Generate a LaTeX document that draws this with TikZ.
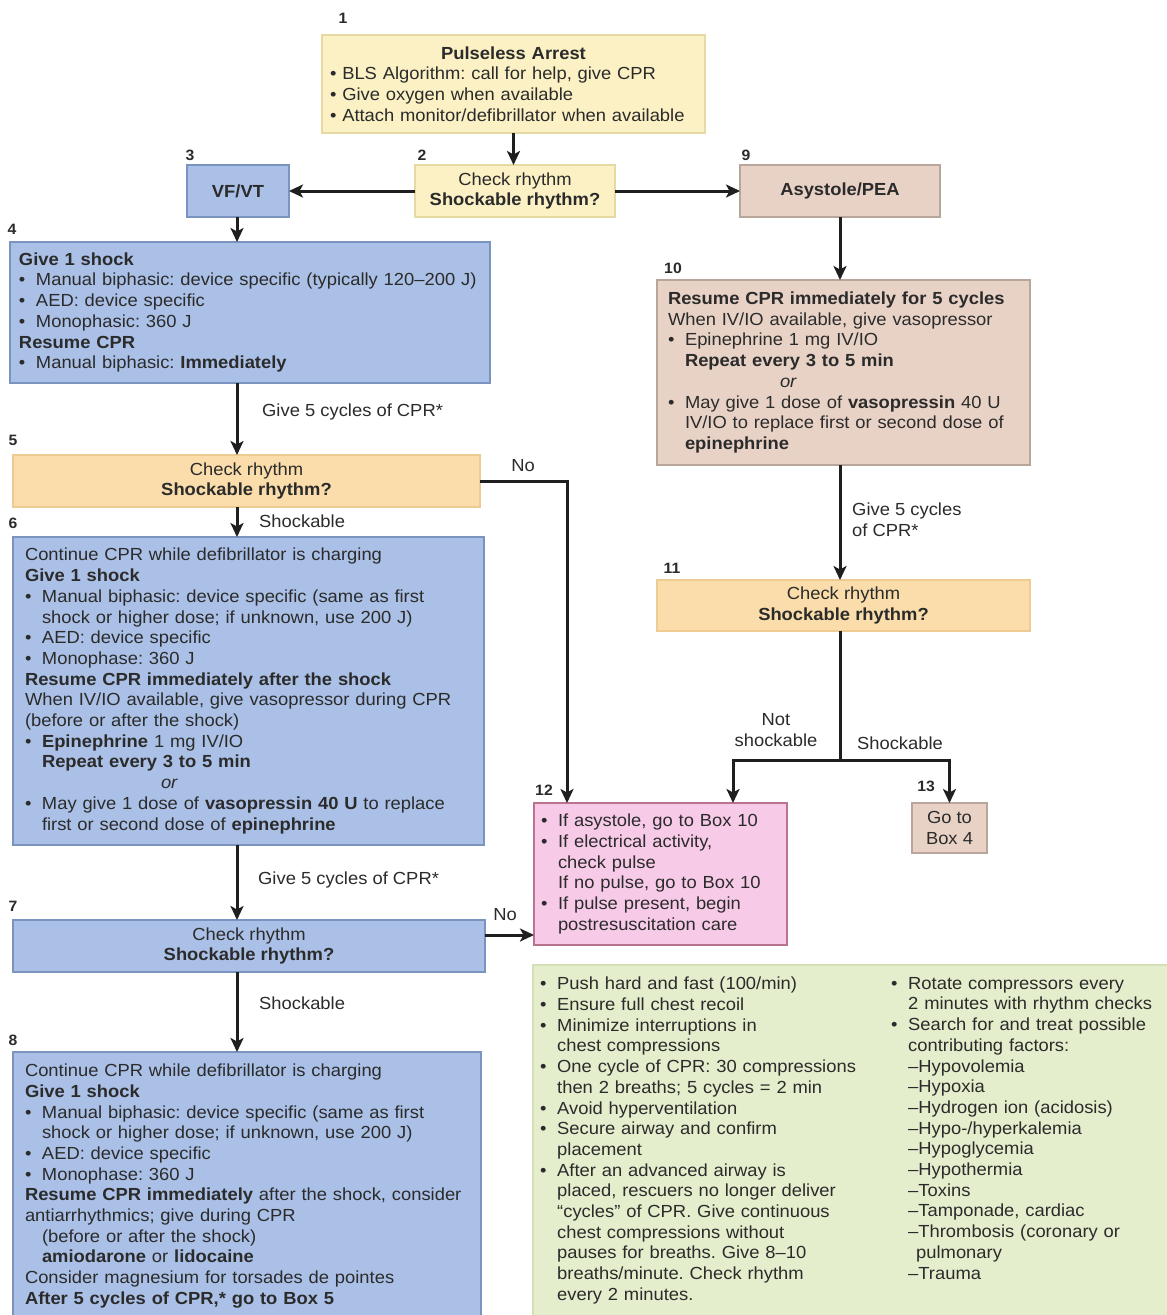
\documentclass[tikz,border=0pt]{standalone}
\usepackage{fontspec}
\setmainfont{Liberation Sans}[FakeStretch=1.05]
\usetikzlibrary{arrows.meta}

\definecolor{txt}{HTML}{2B2B2B}
\definecolor{yelF}{HTML}{FBF1C4}
\definecolor{yelD}{HTML}{E6D9A2}
\definecolor{bluF}{HTML}{ABC0E6}
\definecolor{bluD}{HTML}{7B93BF}
\definecolor{orgF}{HTML}{FADDAA}
\definecolor{orgD}{HTML}{EDCB92}
\definecolor{tanF}{HTML}{E8D2C6}
\definecolor{tanD}{HTML}{B9A69B}
\definecolor{pnkF}{HTML}{F7CBE8}
\definecolor{pnkD}{HTML}{B9738F}
\definecolor{grnF}{HTML}{E4EDCC}
\definecolor{grnD}{HTML}{D3DFB5}

\newcommand\bodyfont{\fontsize{17.5}{20.7}\selectfont\frenchspacing}
\newcommand\bul{\makebox[17pt][l]{\textbullet}}
\newcommand\hng{\hspace*{17pt}}

\tikzset{
  panel/.style={draw, line width=1.1pt, anchor=north west, inner ysep=0pt,
    outer sep=0pt, font=\bodyfont, text=txt, align=left},
  cpanel/.style={panel, align=center, inner sep=0pt},
  yel/.style={fill=yelF, draw=yelD},
  blu/.style={fill=bluF, draw=bluD},
  org/.style={fill=orgF, draw=orgD},
  tan/.style={fill=tanF, draw=tanD},
  pnk/.style={fill=pnkF, draw=pnkD},
  grn/.style={fill=grnF, draw=grnD},
  conn/.style={line width=3pt, draw=black!88},
  arr/.style={conn, -{Stealth[length=14pt,width=13pt,inset=3.5pt]}},
  num/.style={font=\bfseries\fontsize{15}{15}\selectfont, text=txt},
  lbl/.style={font=\bodyfont, text=txt, inner sep=0pt},
}

\begin{document}
\begin{tikzpicture}[x=1pt,y=-1pt]
\useasboundingbox[fill=white] (0,0) rectangle (1167,1315);

% ---------- boxes ----------
\node[panel,yel,minimum width=383pt,minimum height=98pt,inner xsep=8pt,text width=367pt] (b1) at (322,35)
  {\makebox[367pt]{\textbf{Pulseless Arrest}}\\
   \textbullet\ BLS Algorithm: call for help, give CPR\\
   \textbullet\ Give oxygen when available\\
   \textbullet\ Attach monitor/defibrillator when available};

\node[cpanel,yel,minimum width=200pt,minimum height=52pt] (b2) at (415,165)
  {Check rhythm\\\textbf{Shockable rhythm?}};

\node[cpanel,blu,minimum width=102pt,minimum height=52pt] (b3) at (187,165) {\textbf{VF/VT}};

\node[cpanel,tan,minimum width=200pt,minimum height=52pt] (b9) at (740,165) {\textbf{Asystole/PEA}};

\node[panel,blu,minimum width=480pt,minimum height=141pt,inner xsep=9pt,text width=462pt] (b4) at (10,242)
  {\textbf{Give 1 shock}\\
   \bul Manual biphasic: device specific (typically 120–200 J)\\
   \bul AED: device specific\\
   \bul Monophasic: 360 J\\
   \textbf{Resume CPR}\\
   \bul Manual biphasic: \textbf{Immediately}};

\node[cpanel,org,minimum width=467pt,minimum height=52pt] (b5) at (13,455)
  {Check rhythm\\\textbf{Shockable rhythm?}};

\node[panel,blu,minimum width=471pt,minimum height=308pt,inner xsep=12pt,text width=447pt] (b6) at (13,537)
  {Continue CPR while defibrillator is charging\\
   \textbf{Give 1 shock}\\
   \bul Manual biphasic: device specific (same as first\\
   \hng shock or higher dose; if unknown, use 200 J)\\
   \bul AED: device specific\\
   \bul Monophase: 360 J\\
   \textbf{Resume CPR immediately after the shock}\\
   When IV/IO available, give vasopressor during CPR\\
   (before or after the shock)\\
   \bul\textbf{Epinephrine} 1 mg IV/IO\\
   \hng\textbf{Repeat every 3 to 5 min}\\
   \hspace*{136pt}\textit{or}\\
   \bul May give 1 dose of \textbf{vasopressin 40 U} to replace\\
   \hng first or second dose of \textbf{epinephrine}};

\node[cpanel,blu,minimum width=472pt,minimum height=52pt] (b7) at (13,920)
  {Check rhythm\\\textbf{Shockable rhythm?}};

\node[panel,blu,minimum width=468pt,minimum height=268pt,inner xsep=12pt,text width=444pt] (b8) at (13,1052)
  {Continue CPR while defibrillator is charging\\
   \textbf{Give 1 shock}\\
   \bul Manual biphasic: device specific (same as first\\
   \hng shock or higher dose; if unknown, use 200 J)\\
   \bul AED: device specific\\
   \bul Monophase: 360 J\\
   \textbf{Resume CPR immediately} after the shock, consider\\
   antiarrhythmics; give during CPR\\
   \hng(before or after the shock)\\
   \hng\textbf{amiodarone} or \textbf{lidocaine}\\
   Consider magnesium for torsades de pointes\\
   \textbf{After 5 cycles of CPR,* go to Box 5}};

\node[panel,tan,minimum width=373pt,minimum height=185pt,inner xsep=11pt,text width=351pt] (b10) at (657,280)
  {\textbf{Resume CPR immediately for 5 cycles}\\
   When IV/IO available, give vasopressor\\
   \bul Epinephrine 1 mg IV/IO\\
   \hng\textbf{Repeat every 3 to 5 min}\\
   \hspace*{112pt}\textit{or}\\
   \bul May give 1 dose of \textbf{vasopressin} 40 U\\
   \hng IV/IO to replace first or second dose of\\
   \hng\textbf{epinephrine}};

\node[cpanel,org,minimum width=373pt,minimum height=51pt] (b11) at (657,580)
  {Check rhythm\\\textbf{Shockable rhythm?}};

\node[panel,pnk,minimum width=253pt,minimum height=142pt,inner xsep=7pt,text width=239pt] (b12) at (534,803)
  {\bul If asystole, go to Box 10\\
   \bul If electrical activity,\\
   \hng check pulse\\
   \hng If no pulse, go to Box 10\\
   \bul If pulse present, begin\\
   \hng postresuscitation care};

\node[cpanel,tan,minimum width=75pt,minimum height=50pt] (b13) at (912,803) {Go to\\Box 4};

% ---------- reminders panel ----------
\node[panel,grn,minimum width=642pt,minimum height=357pt] (gbox) at (533,965) {};
\node[lbl,anchor=north west,align=left,text width=345pt] (gleft) at (540,977)
  {\bul Push hard and fast (100/min)\\
   \bul Ensure full chest recoil\\
   \bul Minimize interruptions in\\
   \hng chest compressions\\
   \bul One cycle of CPR: 30 compressions\\
   \hng then 2 breaths; 5 cycles = 2 min\\
   \bul Avoid hyperventilation\\
   \bul Secure airway and confirm\\
   \hng placement\\
   \bul After an advanced airway is\\
   \hng placed, rescuers no longer deliver\\
   \hng “cycles” of CPR. Give continuous\\
   \hng chest compressions without\\
   \hng pauses for breaths. Give 8–10\\
   \hng breaths/minute. Check rhythm\\
   \hng every 2 minutes.};
\node[lbl,anchor=north west,align=left,text width=270pt] (gright) at (891,977)
  {\bul Rotate compressors every\\
   \hng 2 minutes with rhythm checks\\
   \bul Search for and treat possible\\
   \hng contributing factors:\\
   \hng –Hypovolemia\\
   \hng –Hypoxia\\
   \hng –Hydrogen ion (acidosis)\\
   \hng –Hypo-/hyperkalemia\\
   \hng –Hypoglycemia\\
   \hng –Hypothermia\\
   \hng –Toxins\\
   \hng –Tamponade, cardiac\\
   \hng –Thrombosis (coronary or\\
   \hng \hspace*{8pt}pulmonary\\
   \hng –Trauma};

% ---------- box numbers ----------
\node[num] (n1) at (343,18) {1};
\node[num] (n2) at (422,155) {2};
\node[num] (n3) at (190,155) {3};
\node[num] (n9) at (746,155) {9};
\node[num] (n4) at (12,229) {4};
\node[num] (n5) at (13,440) {5};
\node[num] (n6) at (13,523) {6};
\node[num] (n7) at (13,906) {7};
\node[num] (n8) at (13,1040) {8};
\node[num] (n10) at (673,268) {10};
\node[num] (n11) at (672,568) {11};
\node[num] (n12) at (544,790) {12};
\node[num] (n13) at (926,786) {13};

% ---------- connector guides ----------
\coordinate (spine) at (237,0);
\coordinate (noX) at (567,0);
\coordinate (noY) at (0,935);
\coordinate (rspine) at (840,0);
\coordinate (split) at (840,760);
\coordinate (nsX) at (733,0);

% ---------- connectors ----------
\draw[arr] (b1.south) -- (b1.south |- b2.north);
\draw[arr] (b2.west) -- (b3.east);
\draw[arr] (b2.east) -- (b9.west);
\draw[arr] (spine |- b3.south) -- (spine |- b4.north);
\draw[arr] (spine |- b4.south) -- (spine |- b5.north);
\draw[arr] (spine |- b5.south) -- (spine |- b6.north);
\draw[arr] (spine |- b6.south) -- (spine |- b7.north);
\draw[arr] (spine |- b7.south) -- (spine |- b8.north);
\draw[arr] (b5.east) -- (b5.east -| noX) -- (noX |- b12.north);
\draw[arr] (b7.east |- noY) -- (b12.west |- noY);
\draw[arr] (rspine |- b9.south) -- (rspine |- b10.north);
\draw[arr] (rspine |- b10.south) -- (rspine |- b11.north);
\draw[conn] (rspine |- b11.south) -- (split);
\draw[arr] (split) -| (nsX |- b12.north);
\draw[arr] (split) -| (b13.north);

% ---------- connector labels ----------
\node[lbl,anchor=west] (l1) at (262,412) {Give 5 cycles of CPR*};
\node[lbl] (l2) at (523,466) {No};
\node[lbl,anchor=west] (l3) at (259,521) {Shockable};
\node[lbl,anchor=west] (l4) at (258,880) {Give 5 cycles of CPR*};
\node[lbl] (l5) at (505,915) {No};
\node[lbl,anchor=west] (l6) at (259,1003) {Shockable};
\node[lbl,anchor=west,align=left] (l7) at (852,520) {Give 5 cycles\\of CPR*};
\node[lbl,align=center] (l8) at (776,730) {Not\\shockable};
\node[lbl] (l9) at (900,743) {Shockable};
\end{tikzpicture}
\end{document}
